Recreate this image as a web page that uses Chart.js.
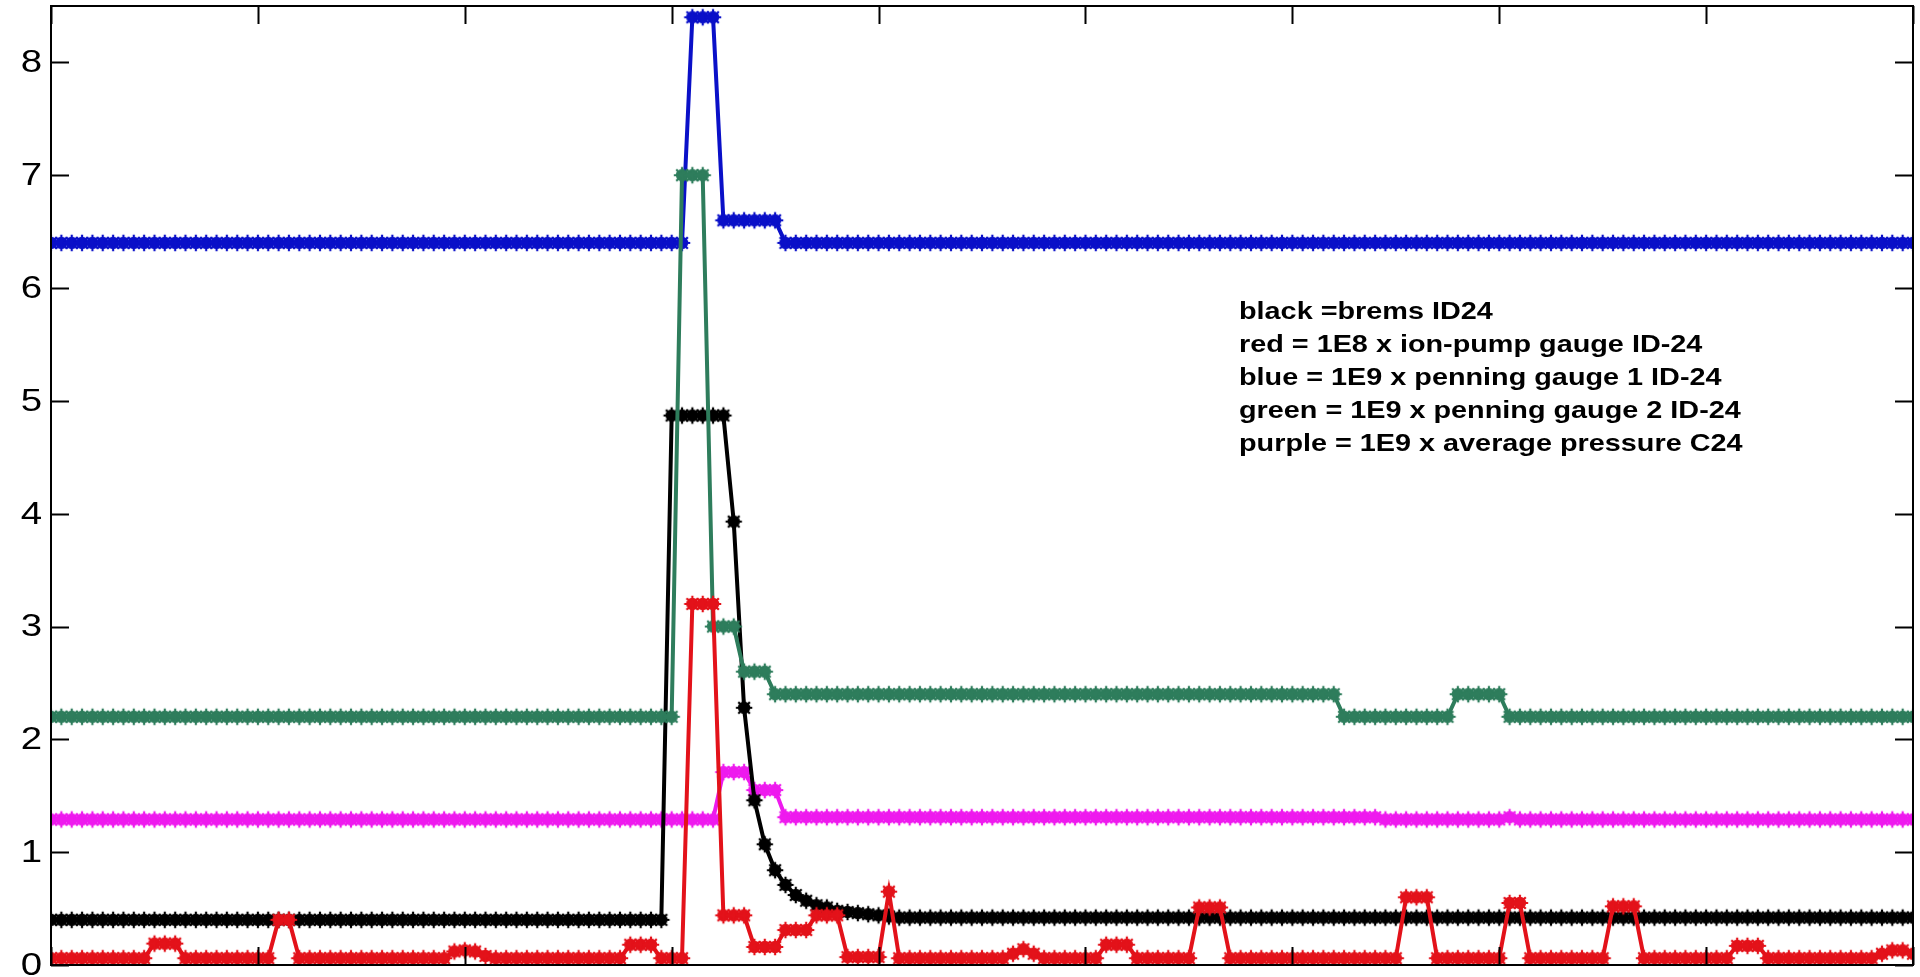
<!DOCTYPE html>
<html>
<head>
<meta charset="utf-8">
<title>ID24 brems and vacuum</title>
<script src="https://cdn.jsdelivr.net/npm/chart.js@4.4.1/dist/chart.umd.min.js"></script>
<style>
  html, body { margin: 0; padding: 0; background: #fff; }
  canvas { display: block; }
</style>
</head>
<body>
<canvas id="plot" width="1920" height="977"></canvas>
<script>
// one sample per step, 181 samples, 20 per row
const brems = [
  0.40, 0.40, 0.40, 0.40, 0.40, 0.40, 0.40, 0.40, 0.40, 0.40, 0.40, 0.40, 0.40, 0.40, 0.40, 0.40, 0.40, 0.40, 0.40, 0.40,
  0.40, 0.40, 0.40, 0.40, 0.40, 0.40, 0.40, 0.40, 0.40, 0.40, 0.40, 0.40, 0.40, 0.40, 0.40, 0.40, 0.40, 0.40, 0.40, 0.40,
  0.40, 0.40, 0.40, 0.40, 0.40, 0.40, 0.40, 0.40, 0.40, 0.40, 0.40, 0.40, 0.40, 0.40, 0.40, 0.40, 0.40, 0.40, 0.40, 0.40,
  4.87, 4.87, 4.87, 4.87, 4.87, 4.87, 3.93, 2.28, 1.46, 1.07, 0.84, 0.71, 0.62, 0.57, 0.53, 0.51, 0.48, 0.47, 0.46, 0.45,
  0.44, 0.43, 0.42, 0.42, 0.42, 0.42, 0.42, 0.42, 0.42, 0.42, 0.42, 0.42, 0.42, 0.42, 0.42, 0.42, 0.42, 0.42, 0.42, 0.42,
  0.42, 0.42, 0.42, 0.42, 0.42, 0.42, 0.42, 0.42, 0.42, 0.42, 0.42, 0.42, 0.42, 0.42, 0.42, 0.42, 0.42, 0.42, 0.42, 0.42,
  0.42, 0.42, 0.42, 0.42, 0.42, 0.42, 0.42, 0.42, 0.42, 0.42, 0.42, 0.42, 0.42, 0.42, 0.42, 0.42, 0.42, 0.42, 0.42, 0.42,
  0.42, 0.42, 0.42, 0.42, 0.42, 0.42, 0.42, 0.42, 0.42, 0.42, 0.42, 0.42, 0.42, 0.42, 0.42, 0.42, 0.42, 0.42, 0.42, 0.42,
  0.42, 0.42, 0.42, 0.42, 0.42, 0.42, 0.42, 0.42, 0.42, 0.42, 0.42, 0.42, 0.42, 0.42, 0.42, 0.42, 0.42, 0.42, 0.42, 0.42,
  0.42
];

// ion-pump gauge x 1E8
const ionPump = [
  0.06, 0.06, 0.06, 0.06, 0.06, 0.06, 0.06, 0.06, 0.06, 0.06, 0.19, 0.19, 0.19, 0.06, 0.06, 0.06, 0.06, 0.06, 0.06, 0.06,
  0.06, 0.06, 0.40, 0.40, 0.06, 0.06, 0.06, 0.06, 0.06, 0.06, 0.06, 0.06, 0.06, 0.06, 0.06, 0.06, 0.06, 0.06, 0.06, 0.12,
  0.13, 0.12, 0.08, 0.06, 0.06, 0.06, 0.06, 0.06, 0.06, 0.06, 0.06, 0.06, 0.06, 0.06, 0.06, 0.06, 0.18, 0.18, 0.18, 0.06,
  0.06, 0.06, 3.20, 3.20, 3.20, 0.44, 0.44, 0.44, 0.16, 0.16, 0.16, 0.31, 0.31, 0.31, 0.44, 0.44, 0.44, 0.07, 0.07, 0.07,
  0.07, 0.65, 0.06, 0.06, 0.06, 0.06, 0.06, 0.06, 0.06, 0.06, 0.06, 0.06, 0.06, 0.10, 0.14, 0.10, 0.06, 0.06, 0.06, 0.06,
  0.06, 0.06, 0.18, 0.18, 0.18, 0.06, 0.06, 0.06, 0.06, 0.06, 0.06, 0.51, 0.51, 0.51, 0.06, 0.06, 0.06, 0.06, 0.06, 0.06,
  0.06, 0.06, 0.06, 0.06, 0.06, 0.06, 0.06, 0.06, 0.06, 0.06, 0.06, 0.60, 0.60, 0.60, 0.06, 0.06, 0.06, 0.06, 0.06, 0.06,
  0.06, 0.55, 0.55, 0.06, 0.06, 0.06, 0.06, 0.06, 0.06, 0.06, 0.06, 0.52, 0.52, 0.52, 0.06, 0.06, 0.06, 0.06, 0.06, 0.06,
  0.06, 0.06, 0.06, 0.17, 0.17, 0.17, 0.06, 0.06, 0.06, 0.06, 0.06, 0.06, 0.06, 0.06, 0.06, 0.06, 0.06, 0.10, 0.13, 0.13,
  0.10
];

// penning gauge 1 x 1E9
const penning1 = [
  6.4, 6.4, 6.4, 6.4, 6.4, 6.4, 6.4, 6.4, 6.4, 6.4, 6.4, 6.4, 6.4, 6.4, 6.4, 6.4, 6.4, 6.4, 6.4, 6.4,
  6.4, 6.4, 6.4, 6.4, 6.4, 6.4, 6.4, 6.4, 6.4, 6.4, 6.4, 6.4, 6.4, 6.4, 6.4, 6.4, 6.4, 6.4, 6.4, 6.4,
  6.4, 6.4, 6.4, 6.4, 6.4, 6.4, 6.4, 6.4, 6.4, 6.4, 6.4, 6.4, 6.4, 6.4, 6.4, 6.4, 6.4, 6.4, 6.4, 6.4,
  6.4, 6.4, 8.4, 8.4, 8.4, 6.6, 6.6, 6.6, 6.6, 6.6, 6.6, 6.4, 6.4, 6.4, 6.4, 6.4, 6.4, 6.4, 6.4, 6.4,
  6.4, 6.4, 6.4, 6.4, 6.4, 6.4, 6.4, 6.4, 6.4, 6.4, 6.4, 6.4, 6.4, 6.4, 6.4, 6.4, 6.4, 6.4, 6.4, 6.4,
  6.4, 6.4, 6.4, 6.4, 6.4, 6.4, 6.4, 6.4, 6.4, 6.4, 6.4, 6.4, 6.4, 6.4, 6.4, 6.4, 6.4, 6.4, 6.4, 6.4,
  6.4, 6.4, 6.4, 6.4, 6.4, 6.4, 6.4, 6.4, 6.4, 6.4, 6.4, 6.4, 6.4, 6.4, 6.4, 6.4, 6.4, 6.4, 6.4, 6.4,
  6.4, 6.4, 6.4, 6.4, 6.4, 6.4, 6.4, 6.4, 6.4, 6.4, 6.4, 6.4, 6.4, 6.4, 6.4, 6.4, 6.4, 6.4, 6.4, 6.4,
  6.4, 6.4, 6.4, 6.4, 6.4, 6.4, 6.4, 6.4, 6.4, 6.4, 6.4, 6.4, 6.4, 6.4, 6.4, 6.4, 6.4, 6.4, 6.4, 6.4,
  6.4
];

// penning gauge 2 x 1E9
const penning2 = [
  2.2, 2.2, 2.2, 2.2, 2.2, 2.2, 2.2, 2.2, 2.2, 2.2, 2.2, 2.2, 2.2, 2.2, 2.2, 2.2, 2.2, 2.2, 2.2, 2.2,
  2.2, 2.2, 2.2, 2.2, 2.2, 2.2, 2.2, 2.2, 2.2, 2.2, 2.2, 2.2, 2.2, 2.2, 2.2, 2.2, 2.2, 2.2, 2.2, 2.2,
  2.2, 2.2, 2.2, 2.2, 2.2, 2.2, 2.2, 2.2, 2.2, 2.2, 2.2, 2.2, 2.2, 2.2, 2.2, 2.2, 2.2, 2.2, 2.2, 2.2,
  2.2, 7.0, 7.0, 7.0, 3.0, 3.0, 3.0, 2.6, 2.6, 2.6, 2.4, 2.4, 2.4, 2.4, 2.4, 2.4, 2.4, 2.4, 2.4, 2.4,
  2.4, 2.4, 2.4, 2.4, 2.4, 2.4, 2.4, 2.4, 2.4, 2.4, 2.4, 2.4, 2.4, 2.4, 2.4, 2.4, 2.4, 2.4, 2.4, 2.4,
  2.4, 2.4, 2.4, 2.4, 2.4, 2.4, 2.4, 2.4, 2.4, 2.4, 2.4, 2.4, 2.4, 2.4, 2.4, 2.4, 2.4, 2.4, 2.4, 2.4,
  2.4, 2.4, 2.4, 2.4, 2.4, 2.2, 2.2, 2.2, 2.2, 2.2, 2.2, 2.2, 2.2, 2.2, 2.2, 2.2, 2.4, 2.4, 2.4, 2.4,
  2.4, 2.2, 2.2, 2.2, 2.2, 2.2, 2.2, 2.2, 2.2, 2.2, 2.2, 2.2, 2.2, 2.2, 2.2, 2.2, 2.2, 2.2, 2.2, 2.2,
  2.2, 2.2, 2.2, 2.2, 2.2, 2.2, 2.2, 2.2, 2.2, 2.2, 2.2, 2.2, 2.2, 2.2, 2.2, 2.2, 2.2, 2.2, 2.2, 2.2,
  2.2
];

// average pressure C24 x 1E9
const avgPressure = [
  1.29, 1.29, 1.29, 1.29, 1.29, 1.29, 1.29, 1.29, 1.29, 1.29, 1.29, 1.29, 1.29, 1.29, 1.29, 1.29, 1.29, 1.29, 1.29, 1.29,
  1.29, 1.29, 1.29, 1.29, 1.29, 1.29, 1.29, 1.29, 1.29, 1.29, 1.29, 1.29, 1.29, 1.29, 1.29, 1.29, 1.29, 1.29, 1.29, 1.29,
  1.29, 1.29, 1.29, 1.29, 1.29, 1.29, 1.29, 1.29, 1.29, 1.29, 1.29, 1.29, 1.29, 1.29, 1.29, 1.29, 1.29, 1.29, 1.29, 1.29,
  1.29, 1.29, 1.29, 1.29, 1.29, 1.71, 1.71, 1.71, 1.55, 1.55, 1.55, 1.31, 1.31, 1.31, 1.31, 1.31, 1.31, 1.31, 1.31, 1.31,
  1.31, 1.31, 1.31, 1.31, 1.31, 1.31, 1.31, 1.31, 1.31, 1.31, 1.31, 1.31, 1.31, 1.31, 1.31, 1.31, 1.31, 1.31, 1.31, 1.31,
  1.31, 1.31, 1.31, 1.31, 1.31, 1.31, 1.31, 1.31, 1.31, 1.31, 1.31, 1.31, 1.31, 1.31, 1.31, 1.31, 1.31, 1.31, 1.31, 1.31,
  1.31, 1.31, 1.31, 1.31, 1.31, 1.31, 1.31, 1.31, 1.31, 1.29, 1.29, 1.29, 1.29, 1.29, 1.29, 1.29, 1.29, 1.29, 1.29, 1.29,
  1.29, 1.31, 1.29, 1.29, 1.29, 1.29, 1.29, 1.29, 1.29, 1.29, 1.29, 1.29, 1.29, 1.29, 1.29, 1.29, 1.29, 1.29, 1.29, 1.29,
  1.29, 1.29, 1.29, 1.29, 1.29, 1.29, 1.29, 1.29, 1.29, 1.29, 1.29, 1.29, 1.29, 1.29, 1.29, 1.29, 1.29, 1.29, 1.29, 1.29,
  1.29
];

const xTicks = [0, 20, 40, 60, 80, 100, 120, 140, 160, 180];
const yTicks = [0, 1, 2, 3, 4, 5, 6, 7, 8];

const notes = [
  "black =brems ID24",
  "red = 1E8 x ion-pump gauge ID-24",
  "blue = 1E9 x penning gauge 1 ID-24",
  "green = 1E9 x penning gauge 2 ID-24",
  "purple = 1E9 x average pressure C24"
];

const samples = brems.map((v, i) => i);

// filled dot with asterisk spokes, like MATLAB '*' markers piled up
function marker(color) {
  const c = document.createElement("canvas");
  c.width = 20;
  c.height = 20;
  const g = c.getContext("2d");
  g.fillStyle = color;
  g.strokeStyle = color;
  g.beginPath();
  g.arc(10, 10, 6.2, 0, Math.PI * 2);
  g.fill();
  g.lineWidth = 2.2;
  g.beginPath();
  for (let k = 0; k < 4; k++) {
    const ang = (k * Math.PI) / 4;
    const dx = Math.cos(ang) * 8.2;
    const dy = Math.sin(ang) * 8.2;
    g.moveTo(10 - dx, 10 - dy);
    g.lineTo(10 + dx, 10 + dy);
  }
  g.stroke();
  return c;
}

function trace(label, data, color, order) {
  return {
    label: label,
    data: data,
    order: order,
    borderColor: color,
    backgroundColor: color,
    pointStyle: marker(color),
    borderWidth: 4,
    pointRadius: 8,
    pointHoverRadius: 8,
    tension: 0,
  };
}

// box, inward ticks, y labels and the text block
const boxPlugin = {
  id: "box",
  afterDatasetsDraw(chart) {
    const { ctx, chartArea: a, scales } = chart;
    const tick = 18;
    ctx.save();
    ctx.strokeStyle = "#000";
    ctx.lineWidth = 2;
    ctx.strokeRect(a.left, a.top, a.right - a.left, a.bottom - a.top);
    ctx.beginPath();
    xTicks.forEach((v) => {
      const px = Math.round(scales.x.getPixelForValue(v)) + 0.5;
      ctx.moveTo(px, a.top);
      ctx.lineTo(px, a.top + tick);
      ctx.moveTo(px, a.bottom);
      ctx.lineTo(px, a.bottom - tick);
    });
    yTicks.forEach((v) => {
      const py = Math.round(scales.y.getPixelForValue(v)) + 0.5;
      ctx.moveTo(a.left, py);
      ctx.lineTo(a.left + tick, py);
      ctx.moveTo(a.right, py);
      ctx.lineTo(a.right - tick, py);
    });
    ctx.stroke();

    ctx.fillStyle = "#000";
    ctx.textBaseline = "middle";

    // wide digits on the y axis
    ctx.font = "32px 'Liberation Sans', Arial, sans-serif";
    ctx.textAlign = "right";
    yTicks.forEach((v) => {
      ctx.save();
      ctx.translate(a.left - 9, scales.y.getPixelForValue(v) + 1);
      ctx.scale(1.2, 1);
      ctx.fillText(String(v), 0, 0);
      ctx.restore();
    });

    ctx.font = "bold 24px 'Liberation Sans', Arial, sans-serif";
    ctx.textAlign = "left";
    notes.forEach((t, k) => {
      ctx.save();
      ctx.translate(1239, 312 + k * 33);
      ctx.scale(1.2, 1);
      ctx.fillText(t, 0, 0);
      ctx.restore();
    });
    ctx.restore();
  },
};

new Chart(document.getElementById("plot"), {
  type: "line",
  data: {
    labels: samples,
    datasets: [
      trace("brems ID24", brems, "#000000", 2),
      trace("1E8 x ion-pump gauge ID-24", ionPump, "#e3121a", 0),
      trace("1E9 x penning gauge 1 ID-24", penning1, "#0a10c8", 4),
      trace("1E9 x penning gauge 2 ID-24", penning2, "#2e7d5c", 1),
      trace("1E9 x average pressure C24", avgPressure, "#ee1aee", 3),
    ],
  },
  options: {
    responsive: false,
    animation: false,
    devicePixelRatio: 1,
    layout: {
      autoPadding: false,
      padding: { top: 6, right: 7, bottom: 12, left: 0 },
    },
    plugins: {
      legend: { display: false },
      tooltip: { enabled: false },
    },
    scales: {
      x: {
        type: "linear",
        min: 0,
        max: 180,
        display: false,
      },
      y: {
        min: 0,
        max: 8.5,
        afterBuildTicks: (scale) => {
          scale.ticks = yTicks.map((v) => ({ value: v }));
        },
        afterFit: (scale) => {
          scale.width = 51;
          scale.paddingTop = 0;
          scale.paddingBottom = 0;
        },
        grid: { display: false, drawTicks: false },
        border: { display: false },
        ticks: { display: false },
      },
    },
  },
  plugins: [boxPlugin],
});
</script>
</body>
</html>
